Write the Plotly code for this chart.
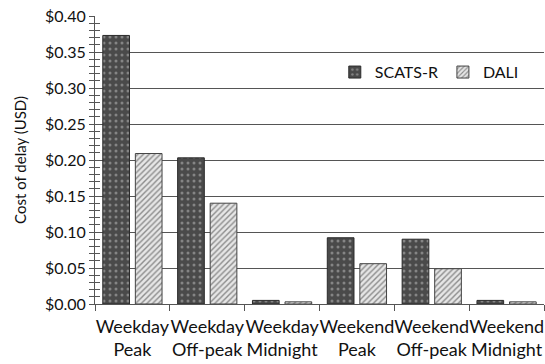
import plotly.graph_objects as go

categories = ["Weekday<br>Peak", "Weekday<br>Off-peak", "Weekday<br>Midnight",
              "Weekend<br>Peak", "Weekend<br>Off-peak", "Weekend<br>Midnight"]
scats_r = [0.373, 0.203, 0.005, 0.092, 0.090, 0.005]
dali = [0.209, 0.140, 0.003, 0.056, 0.049, 0.003]
y_ticks = [0.0, 0.05, 0.10, 0.15, 0.20, 0.25, 0.30, 0.35, 0.40]
y_tick_labels = ["$%.2f" % v for v in y_ticks]

FONT = "Lato"

fig = go.Figure()
fig.add_trace(go.Bar(
    name="SCATS-R", x=categories, y=scats_r,
    marker=dict(color="#4a4a4a", line=dict(color="#2a2a2a", width=1),
                pattern=dict(shape=".", fgcolor="#858585", bgcolor="#4a4a4a",
                             size=6, solidity=0.2, fillmode="replace")),
))
fig.add_trace(go.Bar(
    name="DALI", x=categories, y=dali,
    marker=dict(color="#e6e6e6", line=dict(color="#444444", width=1),
                pattern=dict(shape="/", fgcolor="#8c8c8c", bgcolor="#e6e6e6",
                             size=4, solidity=0.35, fillmode="replace")),
))
# helper trace so the inside-tick axis is drawn
fig.add_trace(go.Scatter(x=[categories[0]], y=[None], yaxis="y2",
                         showlegend=False, hoverinfo="skip"))

fig.update_layout(
    width=545, height=364,
    margin=dict(l=95, r=1, t=16, b=60, autoexpand=False),
    paper_bgcolor="white", plot_bgcolor="white",
    barmode="group", bargap=0.13, bargroupgap=0.18,
    font=dict(family=FONT, color="#111111", size=15),
    legend=dict(orientation="h", x=0.955, xanchor="right", y=0.805, yanchor="middle",
                font=dict(size=16, family=FONT), bgcolor="rgba(0,0,0,0)",
                itemwidth=30, traceorder="normal"),
    xaxis=dict(
        type="category", showline=True, linecolor="#555555", linewidth=1,
        ticks="outside", ticklen=6, tickcolor="#555555", tickson="boundaries",
        tickangle=0, automargin=False, ticklabelstandoff=6,
        tickfont=dict(size=18, family=FONT, color="#111111"),
        showgrid=False, zeroline=False,
    ),
    yaxis=dict(
        range=[0, 0.40], tickvals=y_ticks, ticktext=y_tick_labels, automargin=False,
        showline=True, linecolor="#555555", linewidth=1,
        ticks="outside", ticklen=5, tickcolor="#555555",
        minor=dict(dtick=0.01, ticks="outside", ticklen=5, tickcolor="#555555", showgrid=False),
        showgrid=True, gridcolor="#555555", gridwidth=1, zeroline=False,
        tickfont=dict(size=16, family=FONT, color="#111111"),
        title=dict(text="Cost of delay (USD)", font=dict(size=15, family=FONT, color="#111111"), standoff=14),
    ),
    yaxis2=dict(
        range=[0, 0.40], overlaying="y", side="left", anchor="x",
        tickvals=y_ticks, showticklabels=False, showgrid=False, zeroline=False,
        ticks="inside", ticklen=5, tickcolor="#555555",
        minor=dict(dtick=0.01, ticks="inside", ticklen=5, tickcolor="#555555", showgrid=False),
    ),
)

fig.write_html("out.html", config={"displayModeBar": False},
               post_script="document.body.style.margin='0';")
